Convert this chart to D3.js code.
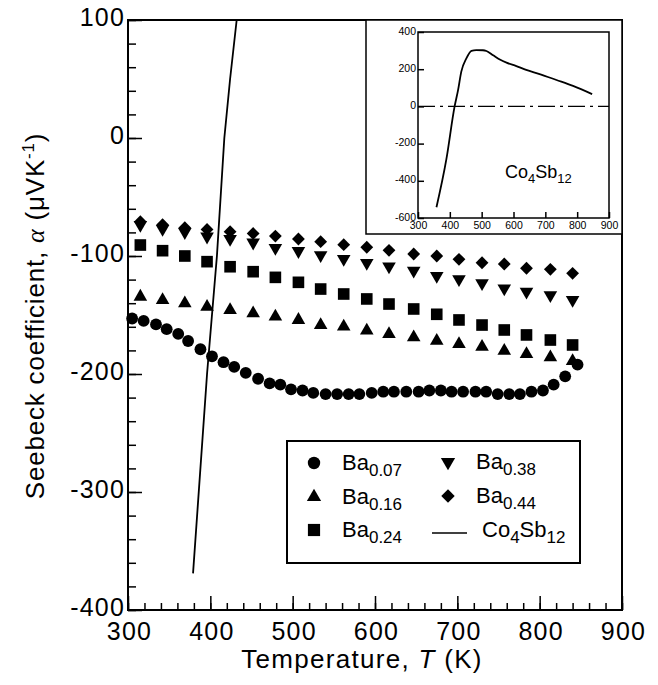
<!DOCTYPE html>
<html>
<head>
<meta charset="utf-8">
<script src="https://cdn.jsdelivr.net/npm/d3@7"></script>
<style>
  body { margin: 0; background: #fff; }
  text { font-family: "Liberation Sans", Arial, Helvetica, sans-serif; fill: #000; }
</style>
</head>
<body>
<div id="chart"></div>
<script>
// temperatures (K) for the Ba-filled samples
var tempBa = [315, 342, 369, 396, 424, 452, 479, 507, 534, 562, 590, 617, 647, 675, 702, 730, 757, 784, 813, 840];
var ba016 = [-134.5, -137.3, -140.1, -143, -145.8, -148.6, -151.4, -154.2, -158.5, -159.9, -163.3, -166.1, -168.9, -171.8, -174.6, -176.9, -180.3, -183.1, -185.8, -189];
var ba024 = [-90.7, -95.5, -100, -104.8, -109.1, -113.3, -118.1, -122.3, -128, -132.2, -136.4, -140.7, -144.9, -149.4, -154.2, -158.5, -162.7, -166.9, -171.2, -175.4];
var ba038 = [-73.7, -77.1, -79.7, -83.5, -85.6, -88.6, -93.2, -95.8, -99.2, -102.5, -105.9, -108.9, -112.5, -116.9, -119.7, -123.1, -127.4, -130.3, -133.1, -137.3];
var ba044 = [-70.9, -73.5, -76, -77.5, -79.4, -80.9, -83.1, -85.6, -87.9, -90.4, -92.6, -95.2, -98.3, -100, -102.8, -105.7, -106.8, -110.4, -111.3, -114.7];

// Ba0.07 was measured more densely
var temp007 = [305, 319, 334, 347, 361, 373, 388, 402, 416, 429, 443, 458, 472, 485, 498, 512, 525, 540, 554, 568,
               581, 596, 610, 623, 638, 653, 666, 680, 693, 707, 722, 735, 749, 763, 776, 790, 804, 817, 831, 846];
var ba007 = [-153, -155, -158, -162, -166, -172, -179, -185, -190, -194, -199, -204, -208, -209, -213, -214, -216, -217, -217, -217,
             -217, -216, -215, -215, -215, -215, -214, -214, -215, -215, -215, -215, -217, -217, -217, -215, -214, -209, -202, -192];

// Co4Sb12 (steep part seen in the main panel)
var coTemp = [379, 396, 408, 417, 424, 432];
var coAlpha = [-369, -200, -100, 0, 50, 100];

// Co4Sb12 inset curve
var insetTemp = [358, 389, 415, 426, 436, 452, 468, 483, 504, 515, 536, 557, 578, 609, 640, 682, 735, 787, 847];
var insetAlpha = [-542, -285, 0, 89, 187, 258, 299, 303, 302, 298, 275, 252, 235, 217, 196, 174, 142, 110, 66];

var xMajor = [300, 400, 500, 600, 700, 800, 900];
var yMajor = [-400, -300, -200, -100, 0, 100];
var insetXTicks = [300, 400, 500, 600, 700, 800, 900];
var insetYTicks = [-600, -400, -200, 0, 200, 400];

// plain hyphen for negatives, like the original
function fmt(d) { return String(d); }

var svg = d3.select('#chart').append('svg')
  .attr('width', 658)
  .attr('height', 685);

var x = d3.scaleLinear().domain([300, 900]).range([128, 622]);
var y = d3.scaleLinear().domain([-400, 100]).range([610, 20]);

// minor ticks
svg.append('g')
  .attr('transform', 'translate(0,610)')
  .call(d3.axisBottom(x).tickValues(d3.range(300, 901, 20)).tickSize(-7).tickFormat(''))
  .call(function(g) { g.select('.domain').remove(); g.selectAll('line').attr('stroke-width', 1.5); });
svg.append('g')
  .attr('transform', 'translate(128,0)')
  .call(d3.axisLeft(y).tickValues(d3.range(-400, 101, 20)).tickSize(-8).tickFormat(''))
  .call(function(g) { g.select('.domain').remove(); g.selectAll('line').attr('stroke-width', 1.5); });

// major ticks + labels
svg.append('g')
  .attr('transform', 'translate(0,610)')
  .call(d3.axisBottom(x).tickValues(xMajor).tickSize(-14).tickPadding(12).tickFormat(fmt))
  .call(function(g) {
    g.select('.domain').remove();
    g.selectAll('line').attr('stroke-width', 1.5);
    g.selectAll('text').attr('font-size', 25).attr('font-family', null)
      .attr('letter-spacing', 1.2).attr('dx', 1);
  });
svg.append('g')
  .attr('transform', 'translate(128,0)')
  .call(d3.axisLeft(y).tickValues(yMajor).tickSize(-14).tickPadding(3).tickFormat(fmt))
  .call(function(g) {
    g.select('.domain').remove();
    g.selectAll('line').attr('stroke-width', 1.5);
    g.selectAll('text').attr('font-size', 25).attr('font-family', null)
      .attr('letter-spacing', 1.2).attr('dy', '0.22em');
  });

svg.append('rect')
  .attr('x', 128).attr('y', 20).attr('width', 494).attr('height', 590)
  .attr('fill', 'none').attr('stroke', '#000').attr('stroke-width', 2);

// axis titles
svg.append('text')
  .attr('x', 362).attr('y', 668)
  .attr('text-anchor', 'middle')
  .attr('font-size', 26)
  .attr('letter-spacing', 1.3)
  .html('Temperature, <tspan font-style="italic">T</tspan> (K)');

svg.append('text')
  .attr('transform', 'translate(44,316) rotate(-90)')
  .attr('text-anchor', 'middle')
  .attr('font-size', 26)
  .attr('letter-spacing', 0.8)
  .html('Seebeck coefficient, <tspan font-family="Liberation Serif, serif" font-style="italic">α</tspan> (μVK<tspan dy="-10" font-size="17">-1</tspan><tspan dy="10">)</tspan>');

// clip for the Co4Sb12 line
svg.append('clipPath').attr('id', 'plotClip')
  .append('rect').attr('x', 128).attr('y', 20).attr('width', 494).attr('height', 590);

var line = d3.line()
  .x(function(d) { return x(d[0]); })
  .y(function(d) { return y(d[1]); });

svg.append('path')
  .datum(d3.zip(coTemp, coAlpha))
  .attr('clip-path', 'url(#plotClip)')
  .attr('d', line)
  .attr('fill', 'none')
  .attr('stroke', '#000')
  .attr('stroke-width', 1.8);

// marker shapes
var shapes = {
  circle:  { type: d3.symbolCircle, size: 110, rot: 0 },
  triUp:   { type: d3.symbolTriangle, size: 80, rot: 0 },
  square:  { type: d3.symbolSquare, size: 135, rot: 0 },
  triDown: { type: d3.symbolTriangle, size: 80, rot: 180 },
  diamond: { type: d3.symbolSquare, size: 82, rot: 45 }
};

var series = [
  { name: '0.07', temps: temp007, vals: ba007, shape: 'circle' },
  { name: '0.16', temps: tempBa, vals: ba016, shape: 'triUp' },
  { name: '0.24', temps: tempBa, vals: ba024, shape: 'square' },
  { name: '0.38', temps: tempBa, vals: ba038, shape: 'triDown' },
  { name: '0.44', temps: tempBa, vals: ba044, shape: 'diamond' }
];

series.forEach(function(s) {
  var sh = shapes[s.shape];
  svg.append('g').selectAll('path')
    .data(d3.zip(s.temps, s.vals))
    .enter().append('path')
      .attr('d', d3.symbol().type(sh.type).size(sh.size))
      .attr('transform', function(d) { return 'translate(' + x(d[0]) + ',' + y(d[1]) + ') rotate(' + sh.rot + ')'; })
      .attr('fill', '#000');
});

// legend
var legend = svg.append('g');
legend.append('rect')
  .attr('x', 287).attr('y', 441).attr('width', 293).attr('height', 122)
  .attr('fill', '#fff').attr('stroke', '#000').attr('stroke-width', 2);

var legendItems = [
  { s: series[0], lx: 314, ly: 463 },
  { s: series[1], lx: 314, ly: 497 },
  { s: series[2], lx: 314, ly: 530 },
  { s: series[3], lx: 448, ly: 462 },
  { s: series[4], lx: 448, ly: 496 }
];
legendItems.forEach(function(it) {
  var sh = shapes[it.s.shape];
  legend.append('path')
    .attr('d', d3.symbol().type(sh.type).size(sh.size * 1.1))
    .attr('transform', 'translate(' + it.lx + ',' + it.ly + ') rotate(' + sh.rot + ')')
    .attr('fill', '#000');
  legend.append('text')
    .attr('x', it.lx + 28).attr('y', it.ly + 7)
    .attr('font-size', 22)
    .html('Ba<tspan dy="6" font-size="17">' + it.s.name + '</tspan>');
});
legend.append('line')
  .attr('x1', 432).attr('x2', 467).attr('y1', 533).attr('y2', 533)
  .attr('stroke', '#000').attr('stroke-width', 1.5);
legend.append('text')
  .attr('x', 482).attr('y', 537)
  .attr('font-size', 22)
  .html('Co<tspan dy="6" font-size="17">4</tspan><tspan dy="-6">Sb</tspan><tspan dy="6" font-size="17">12</tspan>');

// inset
var inset = svg.append('g');
inset.append('rect')
  .attr('x', 366).attr('y', 20).attr('width', 256).attr('height', 214)
  .attr('fill', '#fff').attr('stroke', '#000').attr('stroke-width', 1.5);

var xi = d3.scaleLinear().domain([300, 900]).range([418, 609]);
var yi = d3.scaleLinear().domain([-600, 400]).range([218, 32]);

inset.append('g')
  .attr('transform', 'translate(0,218)')
  .call(d3.axisBottom(xi).tickValues(insetXTicks).tickSize(-6).tickPadding(4).tickFormat(fmt))
  .call(function(g) {
    g.select('.domain').remove();
    g.selectAll('line').attr('stroke-width', 1.5);
    g.selectAll('text').attr('font-size', 10.5).attr('font-family', null);
  });
inset.append('g')
  .attr('transform', 'translate(418,0)')
  .call(d3.axisLeft(yi).tickValues(insetYTicks).tickSize(-6).tickPadding(2).tickFormat(fmt))
  .call(function(g) {
    g.select('.domain').remove();
    g.selectAll('line').attr('stroke-width', 1.5);
    g.selectAll('text').attr('font-size', 10.5).attr('font-family', null).attr('dy', '0.2em');
  });

inset.append('rect')
  .attr('x', 418).attr('y', 32).attr('width', 191).attr('height', 186)
  .attr('fill', 'none').attr('stroke', '#000').attr('stroke-width', 1.5);

inset.append('line')
  .attr('x1', xi(300)).attr('x2', xi(900)).attr('y1', yi(0)).attr('y2', yi(0))
  .attr('stroke', '#000').attr('stroke-width', 1.3)
  .attr('stroke-dasharray', '17,5,3,5');

var insetLine = d3.line().curve(d3.curveMonotoneX)
  .x(function(d) { return xi(d[0]); })
  .y(function(d) { return yi(d[1]); });

inset.append('path')
  .datum(d3.zip(insetTemp, insetAlpha))
  .attr('d', insetLine)
  .attr('fill', 'none')
  .attr('stroke', '#000')
  .attr('stroke-width', 1.8);

inset.append('text')
  .attr('x', 505).attr('y', 178)
  .attr('font-size', 18)
  .html('Co<tspan dy="5" font-size="13">4</tspan><tspan dy="-5">Sb</tspan><tspan dy="5" font-size="13">12</tspan>');
</script>
</body>
</html>
